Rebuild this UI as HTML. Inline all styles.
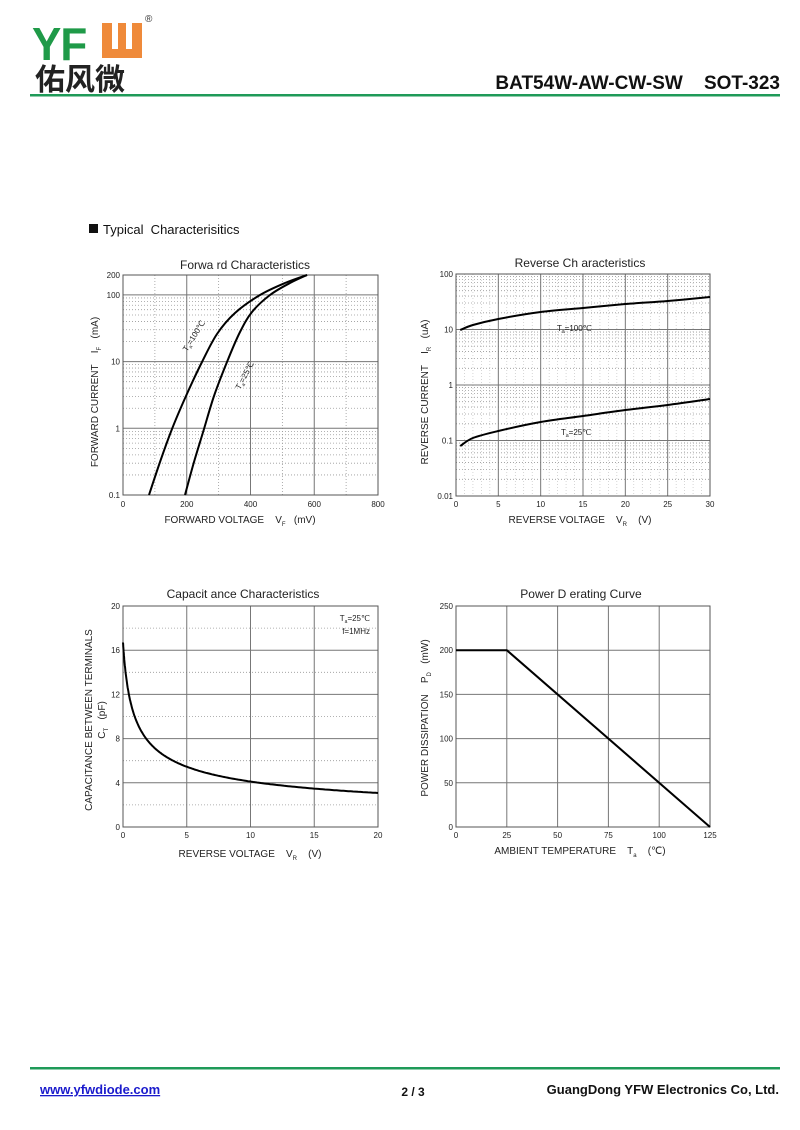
<!DOCTYPE html>
<html><head><meta charset="utf-8">
<style>
html,body{margin:0;padding:0;background:#fff;}
body{width:800px;height:1130px;position:relative;overflow:hidden;font-family:"Liberation Sans",Arial,sans-serif;}
</style></head>
<body>
<svg id="s" width="800" height="1130" viewBox="0 0 800 1130" xmlns="http://www.w3.org/2000/svg" style="position:absolute;left:0;top:0;font-family:'Liberation Sans',sans-serif">
<!-- header -->
<text x="32" y="57" font-size="44" font-weight="bold" fill="#1f9a48" style="letter-spacing:-1px" transform="scale(1,1.05)" >YF</text>
<rect x="102" y="23" width="40" height="35" fill="#ef8a3a"/>
<rect x="112" y="23" width="6" height="26" fill="#fff"/>
<rect x="126" y="23" width="6" height="26" fill="#fff"/>
<text x="145" y="22" font-size="10" fill="#333">®</text>
<text x="35" y="90" font-size="30" font-weight="bold" fill="#222" font-family="'Noto Sans CJK SC',sans-serif">佑风微</text>
<text x="780" y="89" font-size="19" font-weight="bold" text-anchor="end" fill="#111">BAT54W-AW-CW-SW&#160;&#160;&#160;&#160;SOT-323</text>
<rect x="30" y="94" width="750" height="2.5" fill="#1f9a58"/>
<rect x="89" y="224" width="9" height="9" fill="#111"/>
<text x="103" y="234" font-size="13" fill="#111">Typical&#160;&#160;Characterisitics</text>
<!-- footer -->
<rect x="30" y="1067" width="750" height="2.5" fill="#1f9a58"/>
<text x="40" y="1094" font-size="13" font-weight="bold" fill="#1a1acc" text-decoration="underline">www.yfwdiode.com</text>
<text x="413" y="1096" font-size="12" font-weight="bold" text-anchor="middle" fill="#111">2 / 3</text>
<text x="779" y="1094" font-size="13" font-weight="bold" text-anchor="end" fill="#111">GuangDong YFW Electronics Co, Ltd.</text>
<g id="g"></g>
</svg>
<script>
var g=document.getElementById('g'),h='';
function L(x1,y1,x2,y2,c,w,d){h+='<line x1="'+x1+'" y1="'+y1+'" x2="'+x2+'" y2="'+y2+'" stroke="'+c+'" stroke-width="'+w+'"'+(d?' stroke-dasharray="1,2"':'')+'/>';}
function T(x,y,s,fs,a,extra){h+='<text x="'+x+'" y="'+y+'" font-size="'+fs+'" text-anchor="'+(a||'middle')+'" fill="#222" '+(extra||'')+'>'+s+'</text>';}
function P(p){var s='M'+p[0][0]+','+p[0][1];
 for(var i=0;i<p.length-1;i++){var a=p[i-1]||p[i],b=p[i],c=p[i+1],d=p[i+2]||c;
  s+=' C'+(b[0]+(c[0]-a[0])/6).toFixed(1)+','+(b[1]+(c[1]-a[1])/6).toFixed(1)+' '+(c[0]-(d[0]-b[0])/6).toFixed(1)+','+(c[1]-(d[1]-b[1])/6).toFixed(1)+' '+c[0].toFixed(1)+','+c[1].toFixed(1);}
 h+='<path fill="none" stroke="#000" stroke-width="2" stroke-linejoin="round" d="'+s+'"/>';}
function PL(pts){h+='<polyline fill="none" stroke="#000" stroke-width="2" points="'+pts.map(p=>p[0].toFixed(1)+','+p[1].toFixed(1)).join(' ')+'"/>';}
var maj='#777',mn='#999';
// Chart 1
var x0=123,x1=378,yt=275,yb=495,dec=66.7;
function ly1(v){return 495-(Math.log10(v)+1)*dec;}
for(var d=-1;d<=1;d++)for(var k=2;k<=9;k++)L(x0,ly1(k*Math.pow(10,d)),x1,ly1(k*Math.pow(10,d)),mn,0.8,1);
[100,300,500,700].forEach(v=>L(x0+v*255/800,yt,x0+v*255/800,yb,mn,0.8,1));
[1,10,100].forEach(v=>L(x0,ly1(v),x1,ly1(v),maj,1));
[200,400,600].forEach(v=>L(x0+v*255/800,yt,x0+v*255/800,yb,maj,1));
h+='<rect x="'+x0+'" y="'+yt+'" width="255" height="220" fill="none" stroke="#555" stroke-width="1"/>';
[[0.1,'0.1'],[1,'1'],[10,'10'],[100,'100'],[200,'200']].forEach(a=>T(120,ly1(a[0])+3,a[1],8,'end'));
[0,200,400,600,800].forEach(v=>T(x0+v*255/800,507,v,8));
T(245,269,'Forwa rd Characteristics',12);
T(240,523,'FORWARD VOLTAGE&#160;&#160;&#160;&#160;V<tspan font-size="6" dy="3">F</tspan><tspan dy="-3">&#160;&#160;&#160;(mV)</tspan>',10);
T(0,0,'FORWARD CURRENT&#160;&#160;&#160;&#160;I<tspan font-size="6" dy="3">F</tspan><tspan dy="-3">&#160;&#160;&#160;(mA)</tspan>',10,'middle','transform="translate(98,392) rotate(-90)"');
P([[149,495],[160,462],[172,429],[186,396],[202,362],[217,334],[235,313],[260,295],[285,283],[307,275]]);
P([[185,495],[194,462],[204,429],[214,396],[227,362],[240,332],[252,312],[270,295],[290,283],[307,275]]);
T(0,0,'T<tspan font-size="5" dy="2">a</tspan><tspan dy="-2">=100℃</tspan>',8,'start','transform="translate(187,352) rotate(-58)"');
T(0,0,'T<tspan font-size="5" dy="2">a</tspan><tspan dy="-2">=25℃</tspan>',8,'start','transform="translate(240,390) rotate(-62)"');
// Chart 2
x0=456;x1=710;yt=274;yb=496;dec=55.5;
function ly2(v){return 496-(Math.log10(v)+2)*dec;}
for(d=-2;d<=1;d++)for(k=2;k<=9;k++)L(x0,ly2(k*Math.pow(10,d)),x1,ly2(k*Math.pow(10,d)),mn,0.8,1);
for(var i=1;i<30;i++)if(i%5)L(x0+i*254/30,yt,x0+i*254/30,yb,'#bbb',0.6,1);
[0.1,1,10].forEach(v=>L(x0,ly2(v),x1,ly2(v),maj,1));
[5,10,15,20,25].forEach(v=>L(x0+v*254/30,yt,x0+v*254/30,yb,maj,1));
h+='<rect x="'+x0+'" y="'+yt+'" width="254" height="222" fill="none" stroke="#555" stroke-width="1"/>';
[[0.01,'0.01'],[0.1,'0.1'],[1,'1'],[10,'10'],[100,'100']].forEach(a=>T(453,ly2(a[0])+3,a[1],8,'end'));
[0,5,10,15,20,25,30].forEach(v=>T(x0+v*254/30,507,v,8));
T(580,267,'Reverse Ch aracteristics',12);
T(580,523,'REVERSE VOLTAGE&#160;&#160;&#160;&#160;V<tspan font-size="6" dy="3">R</tspan><tspan dy="-3">&#160;&#160;&#160;&#160;(V)</tspan>',10);
T(0,0,'REVERSE CURRENT&#160;&#160;&#160;&#160;I<tspan font-size="6" dy="3">R</tspan><tspan dy="-3">&#160;&#160;&#160;(uA)</tspan>',10,'middle','transform="translate(428,392) rotate(-90)"');
var X2=v=>456+v*254/30;
P([[X2(0.5),330],[X2(2),325],[X2(5),319],[X2(10),312],[X2(15),308],[X2(20),304],[X2(25),301],[X2(30),297]]);
P([[X2(0.5),446],[X2(2),438],[X2(5),431],[X2(10),422],[X2(15),416],[X2(20),410],[X2(25),405],[X2(30),399]]);
T(557,331,'T<tspan font-size="5" dy="2">a</tspan><tspan dy="-2">=100℃</tspan>',8,'start');
T(561,435,'T<tspan font-size="5" dy="2">a</tspan><tspan dy="-2">=25℃</tspan>',8,'start');
// Chart 3
x0=123;x1=378;yt=606;yb=827;
var Y3=v=>827-v*221/20,X3=v=>123+v*255/20;
[2,6,10,14,18].forEach(v=>L(x0,Y3(v),x1,Y3(v),mn,0.8,1));
[4,8,12,16].forEach(v=>L(x0,Y3(v),x1,Y3(v),maj,1));
[5,10,15].forEach(v=>L(X3(v),yt,X3(v),yb,maj,1));
h+='<rect x="'+x0+'" y="'+yt+'" width="255" height="221" fill="none" stroke="#555" stroke-width="1"/>';
[0,4,8,12,16,20].forEach(v=>T(120,Y3(v)+3,v,8,'end'));
[0,5,10,15,20].forEach(v=>T(X3(v),838,v,8));
T(243,598,'Capacit ance Characteristics',12);
T(250,857,'REVERSE VOLTAGE&#160;&#160;&#160;&#160;V<tspan font-size="6" dy="3">R</tspan><tspan dy="-3">&#160;&#160;&#160;&#160;(V)</tspan>',10);
T(0,0,'CAPACITANCE BETWEEN TERMINALS',10,'middle','transform="translate(92,720) rotate(-90)"');
T(0,0,'C<tspan font-size="6" dy="3">T</tspan><tspan dy="-3">&#160;&#160;&#160;(pF)</tspan>',10,'middle','transform="translate(105,720) rotate(-90)"');
var pts=[];for(i=0;i<=200;i++){var v=Math.pow(i/200,2)*20;pts.push([X3(v),Y3(16.7/Math.pow(1+v/0.4,0.43))]);}PL(pts);
T(370,621,'T<tspan font-size="5" dy="2">a</tspan><tspan dy="-2">=25℃</tspan>',8,'end');
T(370,634,'f=1MHz',8,'end');
// Chart 4
x0=456;x1=710;
var Y4=v=>827-v*221/250,X4=v=>456+v*254/125;
[50,100,150,200].forEach(v=>L(x0,Y4(v),x1,Y4(v),maj,1));
[25,50,75,100].forEach(v=>L(X4(v),yt,X4(v),yb,maj,1));
h+='<rect x="'+x0+'" y="'+yt+'" width="254" height="221" fill="none" stroke="#555" stroke-width="1"/>';
[0,50,100,150,200,250].forEach(v=>T(453,Y4(v)+3,v,8,'end'));
[0,25,50,75,100,125].forEach(v=>T(X4(v),838,v,8));
T(581,598,'Power D erating Curve',12);
T(580,854,'AMBIENT TEMPERATURE&#160;&#160;&#160;&#160;T<tspan font-size="6" dy="3">a</tspan><tspan dy="-3">&#160;&#160;&#160;&#160;(℃)</tspan>',10);
T(0,0,'POWER DISSIPATION&#160;&#160;&#160;&#160;P<tspan font-size="6" dy="3">D</tspan><tspan dy="-3">&#160;&#160;&#160;(mW)</tspan>',10,'middle','transform="translate(428,718) rotate(-90)"');
PL([[X4(0),Y4(200)],[X4(25),Y4(200)],[X4(125),Y4(0)]]);
g.innerHTML=h;
</script>
</body></html>
